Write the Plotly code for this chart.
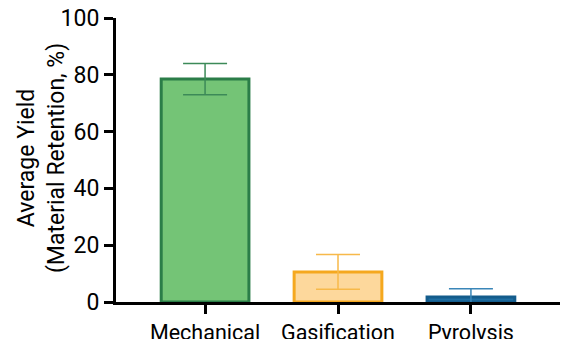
import plotly.graph_objects as go

categories = ["Mechanical", "Gasification", "Pyrolysis"]
yields = [78.5, 10.6, 1.8]
errors = [5.5, 6.1, 2.9]
fill_colors = ["#74C476", "#FDD89C", "#1F6FA3"]
line_colors = ["#2B7D48", "#F5A81F", "#145C8C"]
err_colors = ["#3C8A58", "#F7B94A", "#3A86B8"]
y_ticks = [0, 20, 40, 60, 80, 100]
y_title = "Average Yield<br>(Material Retention, %)"

fig = go.Figure()
for i, c in enumerate(categories):
    fig.add_trace(go.Bar(
        x=[c], y=[yields[i]],
        width=0.66,
        marker=dict(color=fill_colors[i], line=dict(color=line_colors[i], width=3)),
        error_y=dict(type="data", array=[errors[i]], visible=True,
                     color=err_colors[i], thickness=1.5, width=22),
        showlegend=False,
    ))

fig.add_annotation(
    text=y_title, xref="paper", yref="paper", x=0, y=0.5,
    xanchor="center", yanchor="middle", xshift=-75, yshift=2,
    textangle=-90, showarrow=False, font=dict(size=23, family="Roboto", color="black"),
)

fig.update_layout(
    width=566, height=339,
    margin=dict(l=116, r=6, t=18, b=37),
    paper_bgcolor="white", plot_bgcolor="white",
    barmode="overlay",
    font=dict(family="Roboto", color="black"),
    xaxis=dict(
        range=[-0.67, 2.67], showline=True, linecolor="black", linewidth=3,
        ticks="outside", ticklen=9, tickwidth=3, tickcolor="black",
        tickfont=dict(size=21.5), showgrid=False, zeroline=False, automargin=False,
    ),
    yaxis=dict(
        range=[0, 100], tickvals=y_ticks, showline=True, linecolor="black", linewidth=3,
        ticks="outside", ticklen=9, tickwidth=3, tickcolor="black",
        tickfont=dict(size=23), showgrid=False, zeroline=False, automargin=False,
    ),
)

fig.write_html("out.html", config={"displayModeBar": False},
               post_script="document.body.style.margin='0';")
